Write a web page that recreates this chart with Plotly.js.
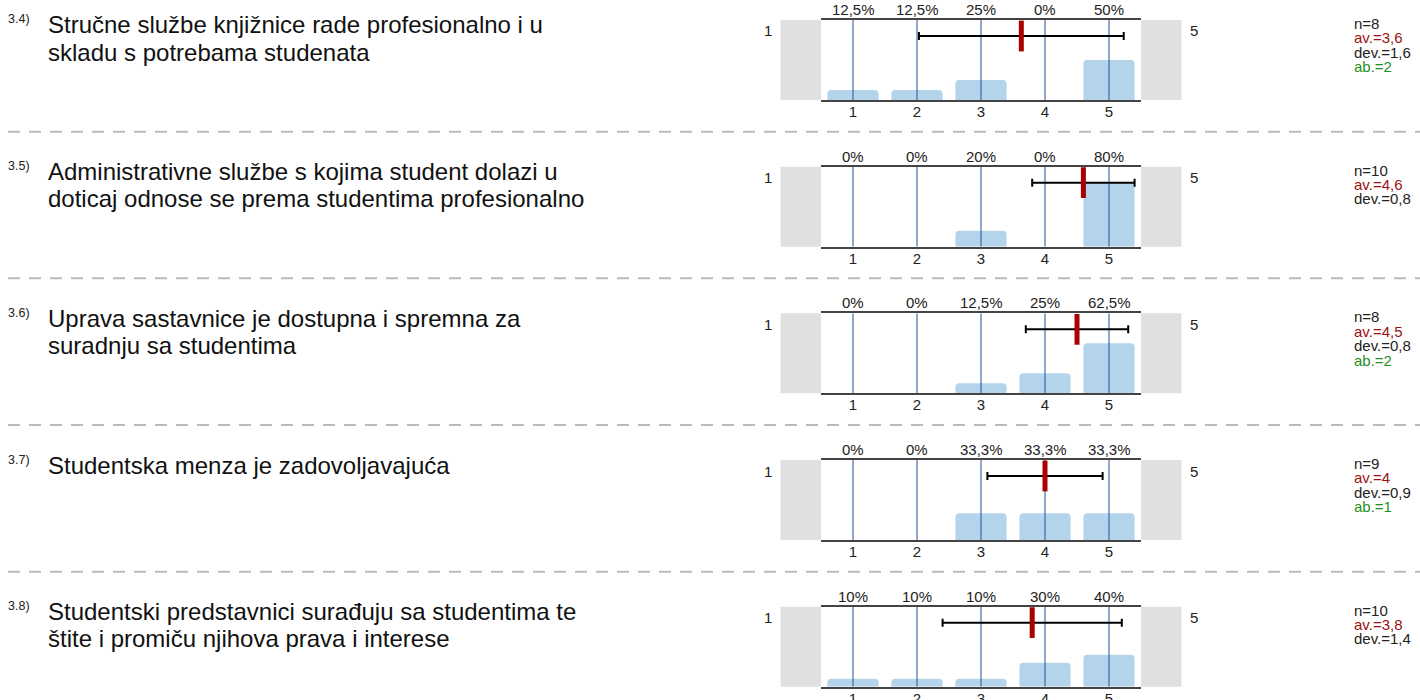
<!DOCTYPE html>
<html>
<head>
<meta charset="utf-8">
<script src="https://cdn.plot.ly/plotly-3.0.1.min.js"></script>
<style>html,body{margin:0;padding:0;background:#fff;}#chart{width:1420px;height:700px;}</style>
</head>
<body>
<div id="chart"></div>
<script>
// ---- data ----
const categories = [1, 2, 3, 4, 5];
const qNumbers = ['3.4)', '3.5)', '3.6)', '3.7)', '3.8)'];
const qLine1 = [
  'Stručne službe knjižnice rade profesionalno i u',
  'Administrativne službe s kojima student dolazi u',
  'Uprava sastavnice je dostupna i spremna za',
  'Studentska menza je zadovoljavajuća',
  'Studentski predstavnici surađuju sa studentima te'
];
const qLine2 = [
  'skladu s potrebama studenata',
  'doticaj odnose se prema studentima profesionalno',
  'suradnju sa studentima',
  '',
  'štite i promiču njihova prava i interese'
];
const pct34 = [12.5, 12.5, 25, 0, 50];
const pct35 = [0, 0, 20, 0, 80];
const pct36 = [0, 0, 12.5, 25, 62.5];
const pct37 = [0, 0, 33.3, 33.3, 33.3];
const pct38 = [10, 10, 10, 30, 40];
const lbl34 = ['12,5%', '12,5%', '25%', '0%', '50%'];
const lbl35 = ['0%', '0%', '20%', '0%', '80%'];
const lbl36 = ['0%', '0%', '12,5%', '25%', '62,5%'];
const lbl37 = ['0%', '0%', '33,3%', '33,3%', '33,3%'];
const lbl38 = ['10%', '10%', '10%', '30%', '40%'];
const nValues = [8, 10, 8, 9, 10];
const means = [3.63, 4.6, 4.5, 4.0, 3.8];
const meanLabels = ['3,6', '4,6', '4,5', '4', '3,8'];
const devs = [1.6, 0.8, 0.8, 0.9, 1.4];
const devLabels = ['1,6', '0,8', '0,8', '0,9', '1,4'];
const abstentions = [2, null, 2, 1, null];
const scaleLeft = '1', scaleRight = '5';

const pctRows = [pct34, pct35, pct36, pct37, pct38];
const lblRows = [lbl34, lbl35, lbl36, lbl37, lbl38];

// ---- layout geometry (pixels) ----
const W = 1420, H = 700;
const rowStep = 146.667, firstTop = 20, plotH = 80;
const plotL = 821, plotR = 1141, boxW = 40.5;
const FONT = 'Liberation Sans, Arial, sans-serif';
const px = v => v / W;
const py = v => 1 - v / H;

const traces = [];
const shapes = [];
const annotations = [];
const layout = {
  width: W, height: H,
  margin: {l: 0, r: 0, t: 0, b: 0},
  paper_bgcolor: '#fff', plot_bgcolor: 'rgba(0,0,0,0)',
  showlegend: false,
  font: {family: FONT, color: '#222'},
  barcornerradius: 4
};

for (let k = 0; k < 5; k++) {
  const s = k === 0 ? '' : String(k + 1);
  const xa = 'x' + s, ya = 'y' + s;
  const top = firstTop + k * rowStep, bot = top + plotH;

  layout['xaxis' + s] = {
    domain: [px(plotL), px(plotR)], anchor: ya,
    range: [0.5, 5.5], tickvals: categories, ticktext: categories.map(String),
    showgrid: false, zeroline: false, showline: true, mirror: true,
    linecolor: '#444', linewidth: 2, ticks: '', ticklabelstandoff: -3,
    tickfont: {size: 15, color: '#222', family: FONT}, fixedrange: true
  };
  layout['yaxis' + s] = {
    domain: [py(bot), py(top)], anchor: xa, range: [0, 100],
    visible: false, fixedrange: true
  };

  // bars
  traces.push({
    type: 'bar', x: categories, y: pctRows[k], xaxis: xa, yaxis: ya,
    width: 0.8, marker: {color: '#b4d4ec', cornerradius: 4},
    hoverinfo: 'skip'
  });
  // vertical blue lines per category
  const lx = [], ly = [];
  categories.forEach(c => { lx.push(c, c, null); ly.push(0, 100, null); });
  traces.push({
    type: 'scatter', mode: 'lines', x: lx, y: ly, xaxis: xa, yaxis: ya,
    line: {color: '#1f5396', width: 1}, hoverinfo: 'skip'
  });
  // mean with deviation
  traces.push({
    type: 'scatter', mode: 'markers', x: [means[k]], y: [80], xaxis: xa, yaxis: ya,
    error_x: {type: 'data', array: [devs[k]], visible: true, color: '#000', thickness: 2, width: 4},
    marker: {symbol: 'line-ns-open', size: 22, line: {width: 5, color: '#aa0000'}, color: '#aa0000'},
    hoverinfo: 'skip'
  });

  // grey side boxes
  shapes.push({type: 'rect', xref: 'paper', yref: ya + ' domain', x0: px(plotL - boxW), x1: px(plotL),
    y0: 0, y1: 1, fillcolor: '#e0e0e0', line: {width: 0}, layer: 'below'});
  shapes.push({type: 'rect', xref: 'paper', yref: ya + ' domain', x0: px(plotR), x1: px(plotR + boxW),
    y0: 0, y1: 1, fillcolor: '#e0e0e0', line: {width: 0}, layer: 'below'});

  // percentage labels
  categories.forEach((c, i) => {
    annotations.push({xref: xa, yref: ya + ' domain', x: c, y: 1, yanchor: 'bottom', yshift: 0,
      text: lblRows[k][i], showarrow: false, font: {size: 15, color: '#222', family: FONT}});
  });
  // scale end labels
  annotations.push({xref: 'paper', yref: 'paper', x: px(768), y: py(top + 11), xanchor: 'center', yanchor: 'middle',
    text: scaleLeft, showarrow: false, font: {size: 15, color: '#222', family: FONT}});
  annotations.push({xref: 'paper', yref: 'paper', x: px(1194), y: py(top + 11), xanchor: 'center', yanchor: 'middle',
    text: scaleRight, showarrow: false, font: {size: 15, color: '#222', family: FONT}});

  // question number and text
  annotations.push({xref: 'paper', yref: 'paper', x: px(6), y: py(top - 0.5), xanchor: 'left', yanchor: 'middle',
    text: qNumbers[k], showarrow: false, font: {size: 12.5, color: '#222', family: FONT}});
  annotations.push({xref: 'paper', yref: 'paper', x: px(46), y: py(top + 5), xanchor: 'left', yanchor: 'middle',
    text: qLine1[k], showarrow: false, font: {size: 24, color: '#111', family: FONT}});
  if (qLine2[k]) {
    annotations.push({xref: 'paper', yref: 'paper', x: px(46), y: py(top + 32), xanchor: 'left', yanchor: 'middle',
      text: qLine2[k], showarrow: false, font: {size: 24, color: '#111', family: FONT}});
  }

  // stats
  const stats = [{t: 'n=' + nValues[k], c: '#222'}, {t: 'av.=' + meanLabels[k], c: '#9b1111'},
                 {t: 'dev.=' + devLabels[k], c: '#222'}];
  if (abstentions[k] !== null) stats.push({t: 'ab.=' + abstentions[k], c: '#1f8f1f'});
  stats.forEach((st, i) => {
    annotations.push({xref: 'paper', yref: 'paper', x: px(1352), y: py(top + 3.5 + i * 14.4), xanchor: 'left', yanchor: 'middle',
      text: st.t, showarrow: false, font: {size: 15, color: st.c, family: FONT}});
  });

  // dashed separator
  if (k < 4) {
    shapes.push({type: 'line', xref: 'paper', yref: 'paper', x0: px(8), x1: 1, y0: py(top + 111.7), y1: py(top + 111.7),
      line: {color: '#bbbbbb', width: 2, dash: '12px,9px'}, layer: 'below'});
  }
}

layout.shapes = shapes;
layout.annotations = annotations;
Plotly.newPlot('chart', traces, layout, {displayModeBar: false, staticPlot: true});
</script>
</body>
</html>
